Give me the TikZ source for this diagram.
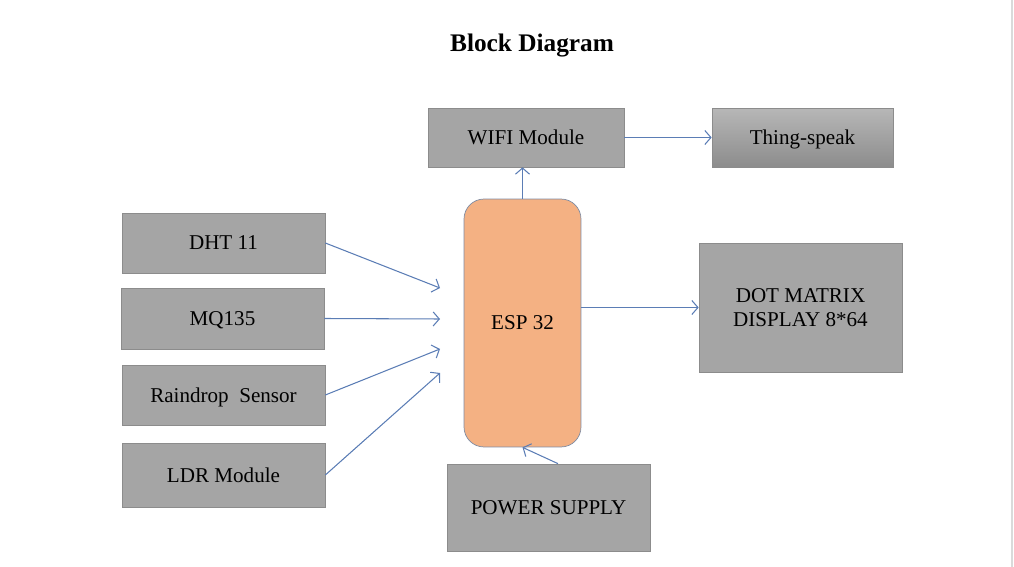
\documentclass[tikz,border=0pt]{standalone}
\usepackage{fontspec}
\setmainfont{Liberation Serif}
\usetikzlibrary{arrows.meta,positioning,calc}
\definecolor{boxgray}{HTML}{A5A5A5}
\definecolor{boxline}{HTML}{8C8C8C}
\definecolor{espfill}{HTML}{F4B183}
\definecolor{espline}{HTML}{7F8CA3}
\definecolor{arrowblue}{HTML}{5B7DB5}
\definecolor{pageedge}{HTML}{DADADA}

\begin{document}
\begin{tikzpicture}[x=0.02cm, y=-0.02cm,
    blk/.style={draw=boxline, fill=boxgray, minimum width=4.06cm, minimum height=1.2cm, inner sep=0pt, text depth=0pt, font=\fontsize{12}{14.2}\selectfont},
    link/.style={draw=arrowblue, line width=0.6pt, -{Straight Barb[length=3.5pt,width=8pt]}}]
        \useasboundingbox (0,0) rectangle (1014,567);
        \draw[pageedge, line width=1.2pt] (1012,0) -- (1012,567);
        %nodes
        \node (title) at (532,46) {\fontsize{14.4}{17}\selectfont\bfseries Block Diagram};
        \node[blk, minimum width=3.92cm, minimum height=1.18cm] (wifi) at (526,137.5) {WIFI Module};
        \node[blk, minimum width=3.62cm, minimum height=1.18cm, top color=boxgray!80!white, bottom color=boxgray!85!black] (thing) at (802.5,137.5) {Thing-speak};
        \node[blk] (dht) at (223.5,243) {DHT 11};
        \node[blk, minimum height=1.22cm] (mq) at (222.5,318.5) {MQ135};
        \node[blk] (rain) at (223.5,395) {Raindrop\ \ Sensor};
        \node[blk, minimum height=1.28cm] (ldr) at (223.5,475) {LDR Module};
        \node[draw=espline, fill=espfill, rounded corners=0.4cm, minimum width=2.34cm, minimum height=4.96cm, text depth=0pt, font=\fontsize{12}{14.2}\selectfont] (esp) at (522.5,323) {ESP 32};
        \node[blk, minimum height=2.58cm, align=center] (dot) at (800.5,307.5) {DOT MATRIX\\DISPLAY 8*64};
        \node[blk, minimum height=1.74cm] (power) at (548.5,507.5) {POWER SUPPLY};
        \coordinate (in1) at (440,288);
        \coordinate (in2) at (440,319);
        \coordinate (in3) at (440,349);
        \coordinate (in4) at (440,373);
        %edges
        \path [link] (esp.north) to (esp.north |- wifi.south);
        \path [link] (wifi.east) to (thing.west);
        \path [link] (dht.east) to (in1);
        \path [link] (mq.east) to (in2);
        \path [link] (rain.east) to (in3);
        \path [link] (ldr.east) to (in4);
        \path [link] (esp.east |- dot.west) to (dot.west);
        \path [link] ($(power.north)+(9.5,0)$) to (esp.south);
\end{tikzpicture}
\end{document}
